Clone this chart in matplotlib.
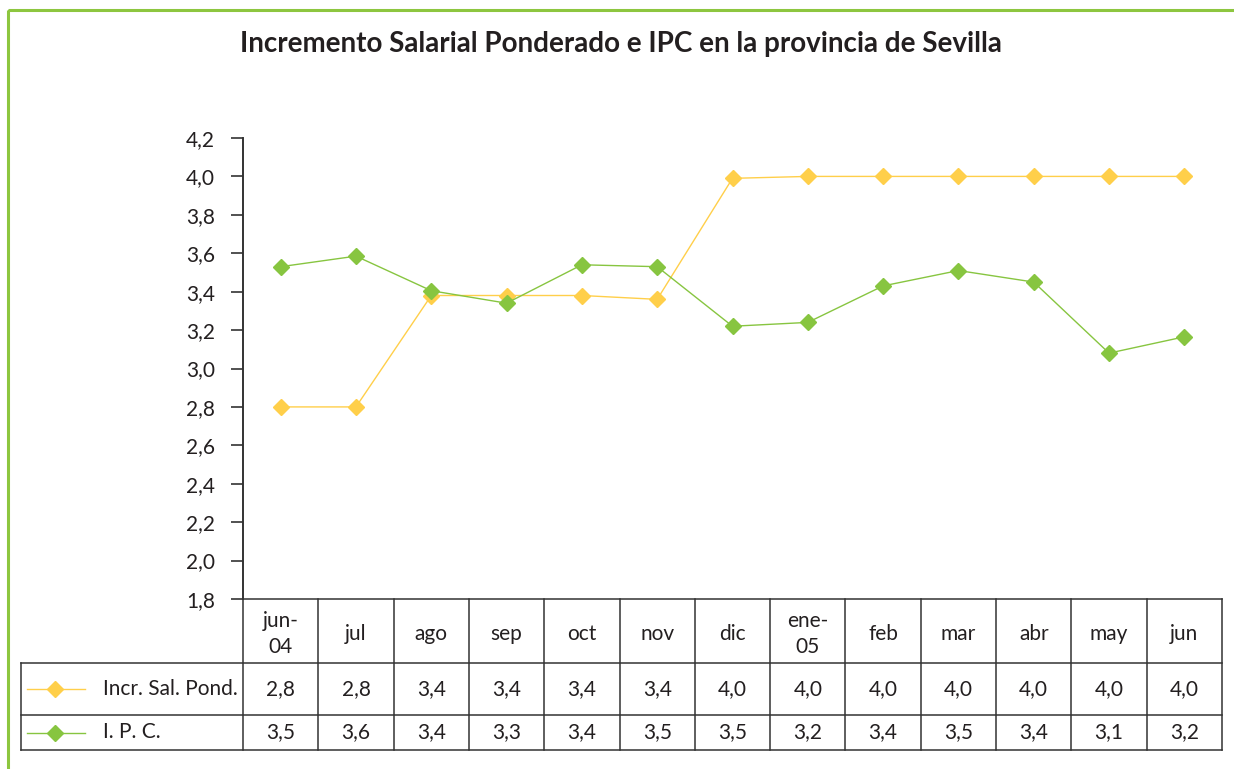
import matplotlib
matplotlib.use("Agg")
from matplotlib import pyplot as plt
from matplotlib.patches import Rectangle
from matplotlib.lines import Line2D

plt.rcParams['font.family'] = ['Lato', 'DejaVu Sans']

# Data
months = ['jun-\n04', 'jul', 'ago', 'sep', 'oct', 'nov', 'dic', 'ene-\n05',
          'feb', 'mar', 'abr', 'may', 'jun']
incr_sal = [2.80, 2.80, 3.38, 3.38, 3.38, 3.36, 3.99, 4.00, 4.00, 4.00, 4.00, 4.00, 4.00]
ipc = [3.53, 3.585, 3.405, 3.34, 3.54, 3.53, 3.22, 3.24, 3.43, 3.51, 3.45, 3.08, 3.165]
incr_sal_labels = ['2,8', '2,8', '3,4', '3,4', '3,4', '3,4', '4,0', '4,0', '4,0', '4,0', '4,0', '4,0', '4,0']
ipc_labels = ['3,5', '3,6', '3,4', '3,3', '3,4', '3,5', '3,5', '3,2', '3,4', '3,5', '3,4', '3,1', '3,2']
series_names = ['Incr. Sal. Pond.', 'I. P. C.']
yticks = [1.8, 2.0, 2.2, 2.4, 2.6, 2.8, 3.0, 3.2, 3.4, 3.6, 3.8, 4.0, 4.2]

YELLOW = '#FFCF4A'
GREEN = '#87C540'
TXT = '#231f20'
W, H = 1234, 769
FS = 15

fig = plt.figure(figsize=(W / 100, H / 100), dpi=100)

# Main plot area (pixel layout)
ax_l, ax_r, ax_t, ax_b = 243, 1222, 138, 599
ax = fig.add_axes([ax_l / W, 1 - ax_b / H, (ax_r - ax_l) / W, (ax_b - ax_t) / H])
x = list(range(len(months)))
ax.plot(x, incr_sal, color=YELLOW, lw=1.0, marker='D', ms=8, mec=YELLOW, mfc=YELLOW, zorder=3)
ax.plot(x, ipc, color=GREEN, lw=1.0, marker='D', ms=8, mec=GREEN, mfc=GREEN, zorder=4)
ax.set_xlim(-0.5, len(months) - 0.5)
ax.set_ylim(1.8, 4.2)
ax.set_yticks(yticks)
ax.set_yticklabels([f'{v:.1f}'.replace('.', ',') for v in yticks], fontsize=FS, color=TXT)
ax.set_xticks([])
for side in ['top', 'right', 'bottom']:
    ax.spines[side].set_visible(False)
ax.spines['left'].set_color('#333333')
ax.spines['left'].set_linewidth(1.4)
ax.tick_params(axis='y', direction='out', length=9, width=1.2, color='#333333', pad=11)

fig.text(621 / W, 1 - 44 / H, 'Incremento Salarial Ponderado e IPC en la provincia de Sevilla',
         ha='center', va='center', fontsize=20, fontweight='bold', color=TXT)

# Overlay in pixel coordinates for table and frame
ov = fig.add_axes([0, 0, 1, 1])
ov.set_xlim(0, W)
ov.set_ylim(H, 0)
ov.axis('off')

# green frame
ov.add_patch(Rectangle((8, 10), W + 20, H + 20, fill=False, ec='#8DC63F', lw=2.2))

colw = (ax_r - ax_l) / len(months)
tab_left = 21
r0, r1, r2, r3 = 599, 663, 715, 750
lc = '#333333'
lw = 1.1
# horizontal lines
ov.plot([ax_l, ax_r], [r0, r0], color=lc, lw=lw)
ov.plot([tab_left, ax_r], [r1, r1], color=lc, lw=lw)
ov.plot([tab_left, ax_r], [r2, r2], color=lc, lw=lw)
ov.plot([tab_left, ax_r], [r3, r3], color=lc, lw=lw)
# vertical lines
ov.plot([tab_left, tab_left], [r1, r3], color=lc, lw=lw)
for i in range(len(months) + 1):
    xe = ax_l + i * colw
    ov.plot([xe, xe], [r0, r3], color=lc, lw=lw)

for i, m in enumerate(months):
    xc = ax_l + (i + 0.5) * colw
    ov.text(xc, (r0 + r1) / 2 + 3, m, ha='center', va='center', fontsize=FS,
            color=TXT, linespacing=1.35)
    ov.text(xc, (r1 + r2) / 2, incr_sal_labels[i], ha='center', va='center', fontsize=FS, color=TXT)
    ov.text(xc, (r2 + r3) / 2, ipc_labels[i], ha='center', va='center', fontsize=FS, color=TXT)

# legend keys in the table
for (y0, y1), name, col in [((r1, r2), series_names[0], YELLOW), ((r2, r3), series_names[1], GREEN)]:
    yc = (y0 + y1) / 2
    ov.add_line(Line2D([27, 85], [yc, yc], color=col, lw=1.0))
    ov.add_line(Line2D([55], [yc], color=col, marker='D', ms=8, mec=col, mfc=col))
    ov.text(103, yc, name, ha='left', va='center', fontsize=FS, color=TXT)

fig.savefig('out.png', dpi=100)
